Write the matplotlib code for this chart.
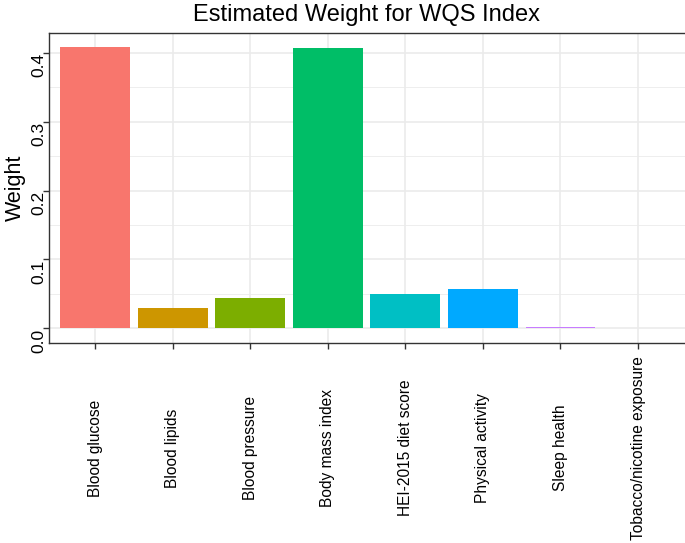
import matplotlib
matplotlib.use("Agg")
import matplotlib.pyplot as plt
from matplotlib.ticker import MultipleLocator

categories = ["Blood glucose", "Blood lipids", "Blood pressure", "Body mass index",
              "HEI-2015 diet score", "Physical activity", "Sleep health",
              "Tobacco/nicotine exposure"]
weights = [0.408, 0.030, 0.044, 0.407, 0.050, 0.057, 0.002, 0.0]
colors = ["#F8766D", "#CD9600", "#7CAE00", "#00BE67", "#00BFC4", "#00A9FF",
          "#C77CFF", "#FF61CC"]
y_ticks = [0.0, 0.1, 0.2, 0.3, 0.4]
y_tick_labels = ["0.0", "0.1", "0.2", "0.3", "0.4"]

plt.rcParams['font.family'] = ['Liberation Sans', 'DejaVu Sans']

W, H = 685, 543
fig = plt.figure(figsize=(W / 100, H / 100), dpi=100)
left, right, top, bottom = 48.5, 684.6, 33.0, 342.5
ax = fig.add_axes([left / W, 1 - bottom / H, (right - left) / W, (bottom - top) / H])

x = list(range(1, len(categories) + 1))
ax.bar(x, weights, width=0.9, color=colors, zorder=3)

ymax = max(weights)
ax.set_ylim(-0.05 * ymax, ymax * 1.05)
ax.set_xlim(0.4, len(categories) + 0.6)

ax.set_yticks(y_ticks)
ax.set_yticklabels(y_tick_labels, rotation=90, va='top', ha='center', fontsize=12.5)
ax.yaxis.set_minor_locator(MultipleLocator(0.05))
ax.set_xticks(x)
ax.set_xticklabels(categories, rotation=90, va='center', ha='center', fontsize=11.2)

ax.grid(True, which='major', color='#EBEBEB', linewidth=1.2, zorder=0)
ax.grid(True, which='minor', axis='y', color='#EBEBEB', linewidth=0.6, zorder=0)
ax.set_axisbelow(True)

for s in ['left', 'top', 'bottom']:
    ax.spines[s].set_color('#333333')
    ax.spines[s].set_linewidth(1.0)
ax.spines['right'].set_visible(False)
ax.tick_params(axis='both', which='major', length=4, width=1.0, color='#333333',
               labelcolor='black')
ax.tick_params(axis='y', which='major', pad=3)
ax.tick_params(axis='x', which='major', pad=72)
ax.tick_params(axis='both', which='minor', length=0)

ax.set_ylabel("Weight", fontsize=15.5, labelpad=4)
ax.set_title("Estimated Weight for WQS Index", fontsize=17, pad=8.5)

fig.savefig("out.png", dpi=100)
